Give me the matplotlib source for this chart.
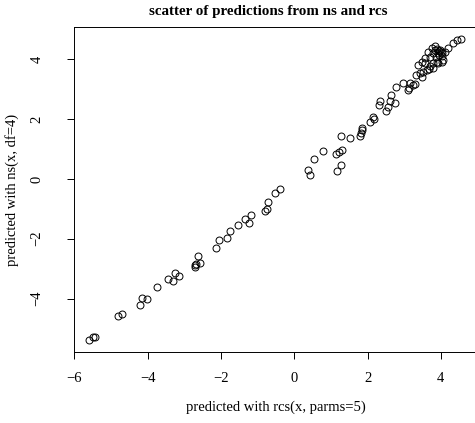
import matplotlib
matplotlib.use("Agg")
import matplotlib.pyplot as plt

# predictions: rcs(x, parms=5) vs ns(x, df=4)
rcs_pred = [-5.59, -5.48, -5.43, -4.80, -4.71, -4.21, -4.15, -4.02, -3.75, -3.45,
            -3.30, -3.25, -3.15, -2.71, -2.70, -2.68, -2.63, -2.57, -2.14, -2.06,
            -1.84, -1.74, -1.54, -1.34, -1.23, -1.19, -0.79, -0.75, -0.72, -0.52,
            -0.40, 0.38, 0.44, 0.53, 0.78, 1.16, 1.28, 1.13, 1.23, 1.30,
            1.27, 1.51, 1.79, 1.82, 1.86, 1.85, 2.08, 2.19, 2.14, 2.31,
            2.35, 2.50, 2.56, 2.62, 2.76, 2.63, 2.79, 2.98, 3.10, 3.13,
            3.23, 3.29, 3.16, 3.32, 3.43, 3.48, 3.52, 3.39, 3.48, 3.57,
            3.66, 3.75, 3.84, 3.90, 3.95, 3.98, 4.01, 3.92, 4.02, 4.11,
            4.20, 4.32, 4.43, 4.54, 3.71, 3.80, 3.89, 4.07, 3.62, 3.69,
            3.80, 3.93, 4.02, 3.57, 3.71, 3.80, 3.84, 3.95, 4.03, 3.87]
ns_pred = [-5.38, -5.27, -5.27, -4.59, -4.52, -4.20, -3.98, -4.02, -3.61, -3.33,
           -3.40, -3.13, -3.25, -2.93, -2.88, -2.84, -2.57, -2.80, -2.31, -2.04,
           -1.96, -1.73, -1.55, -1.35, -1.49, -1.21, -1.06, -1.01, -0.76, -0.48,
           -0.34, 0.29, 0.13, 0.66, 0.93, 0.27, 0.47, 0.83, 0.91, 0.98,
           1.45, 1.38, 1.43, 1.53, 1.62, 1.71, 1.92, 1.99, 2.08, 2.47,
           2.60, 2.28, 2.40, 2.59, 2.53, 2.82, 3.07, 3.22, 2.98, 3.04,
           3.14, 3.17, 3.22, 3.48, 3.54, 3.42, 3.59, 3.81, 3.92, 4.04,
           4.26, 4.37, 4.45, 4.35, 4.28, 4.31, 4.25, 4.21, 4.20, 4.26,
           4.37, 4.54, 4.63, 4.67, 3.76, 3.87, 3.92, 3.98, 3.65, 3.67,
           3.72, 3.87, 3.92, 3.87, 4.09, 4.20, 4.31, 4.15, 4.11, 4.08]

x_ticks = [-6, -4, -2, 0, 2, 4]
y_ticks = [-4, -2, 0, 2, 4]

plt.rcParams['font.family'] = ['Liberation Serif', 'DejaVu Serif']

fig = plt.figure(figsize=(4.75, 4.23), dpi=100)
ax = fig.add_axes([0.1564, 0.1669, 0.8488, 0.7693])

ax.plot(rcs_pred, ns_pred, linestyle='none', marker='o', markersize=5,
        markerfacecolor='none', markeredgecolor='black', markeredgewidth=0.7)

ax.set_xlim(-6.0, 5.0)
ax.set_ylim(-5.8, 5.08)
ax.set_xticks(x_ticks)
ax.set_yticks(y_ticks)
ax.set_xticklabels([str(t).replace('-', '\u2212') for t in x_ticks])
ax.set_yticklabels([str(t).replace('-', '\u2212') for t in y_ticks],
                   rotation=90, va='center')
ax.tick_params(length=5, width=0.7, labelsize=10.5)
ax.tick_params(axis='x', pad=9)
ax.tick_params(axis='y', pad=17)
for s in ax.spines.values():
    s.set_linewidth(0.7)

ax.set_xlabel('predicted with rcs(x, parms=5)', fontsize=10.5, va='center')
ax.xaxis.set_label_coords(0.5, -0.168)
ax.set_ylabel('predicted with ns(x, df=4)', fontsize=10.5, va='center')
ax.yaxis.set_label_coords(-0.1545, 0.5)

fig.text(268 / 475, 1 - 11 / 423, 'scatter of predictions from ns and rcs',
         fontsize=10.8, fontweight='bold', ha='center', va='center')

fig.savefig('out.png', dpi=100)
